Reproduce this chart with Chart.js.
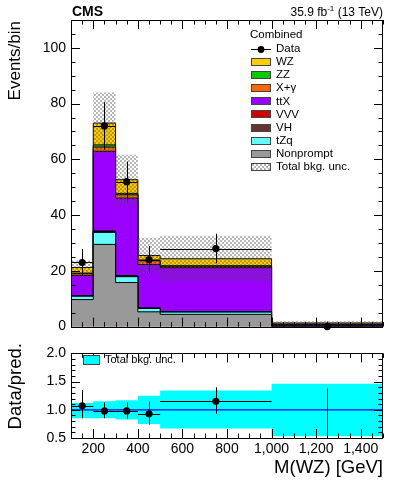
<!DOCTYPE html>
<html><head><meta charset="utf-8">
<script src="https://cdn.jsdelivr.net/npm/chart.js@4/dist/chart.umd.min.js"></script>
<style>
html,body{margin:0;padding:0;background:#fff;}
#wrap{position:relative;width:399px;height:483px;}
canvas{position:absolute;left:0;}
</style></head>
<body><div id="wrap"><canvas id="top" width="399" height="340" style="top:0"></canvas><canvas id="bot" width="399" height="143" style="top:340px"></canvas></div>
<script>
// ---- data ----
const binEdges = [100, 200, 300, 400, 500, 1000, 1500];
const binCenters = [150, 250, 350, 450, 750, 1250];
const seriesNames = ['Nonprompt', 'tZq', 'VH', 'VVV', 'ttX', 'X+\u03b3', 'ZZ', 'WZ'];
const nonprompt = [9.7, 29.5, 15.8, 5.3, 4.4, 0.1];
const tZq       = [1.2, 4.3, 2.1, 1.2, 0.8, 0.05];
const VH        = [0.1, 0.3, 0.2, 0.1, 0.05, 0.0];
const VVV       = [0.1, 0.2, 0.2, 0.1, 0.1, 0.0];
const ttX       = [7.3, 28.6, 27.8, 15.6, 15.8, 0.6];
const Xgamma    = [0.6, 1.5, 1.2, 1.3, 0.5, 0.05];
const ZZ        = [0.2, 0.8, 0.5, 0.3, 0.2, 0.05];
const WZ        = [2.0, 7.8, 4.9, 1.6, 2.5, 0.45];
const dataCounts = [23, 72, 52, 24, 28, 0];
const dataErrUp   = [4.8, 8.5, 7.2, 4.9, 5.3, 1.8];
const dataErrDown = [4.8, 8.5, 7.2, 4.9, 5.3, 0];
const uncRelHi = [1.12, 1.15, 1.17, 1.25, 1.34, 1.46];
const uncRelLo = [0.85, 0.85, 0.83, 0.75, 0.67, 0.53];
const ratioVals   = [1.07, 0.98, 0.98, 0.93, 1.15, 0];
const ratioErrHi  = [1.35, 1.13, 1.13, 1.15, 1.40, 1.38];
const ratioErrLo  = [0.85, 0.85, 0.84, 0.74, 0.93, 0.0];
const topYTicks = [0, 20, 40, 60, 80, 100];
const ratioYTicks = [0.5, 1.0, 1.5, 2.0];
const ratioXTicks = [200, 400, 600, 800, 1000, 1200, 1400];

const seriesValues = [nonprompt, tZq, VH, VVV, ttX, Xgamma, ZZ, WZ];
const seriesColors = ['#999999', '#66ffff', '#663333', '#cc0000', '#9900ff', '#ff6600', '#00cc00', '#ffcc00'];
const FONT = "'Liberation Sans', Arial, Helvetica, sans-serif";

function stepPoints(vals) {
  // point at each bin's left edge with that bin's value; closing point at the last edge
  return binEdges.map((e, i) => ({x: e, y: vals[Math.min(i, vals.length - 1)]}));
}
// cumulative stack
const cumul = [];
let run = [0,0,0,0,0,0];
seriesValues.forEach(v => { run = run.map((r, i) => r + v[i]); cumul.push(run.slice()); });
const total = cumul[cumul.length - 1];
const bandHi = total.map((t, i) => t * uncRelHi[i]);
const bandLo = total.map((t, i) => t * uncRelLo[i]);

// hatch pattern
const pc = document.createElement('canvas'); pc.width = 4; pc.height = 4;
const pctx = pc.getContext('2d');
pctx.fillStyle = 'rgba(80,80,80,0.42)';
pctx.fillRect(0,0,2,2); pctx.fillRect(2,2,2,2);
const hatch = pctx.createPattern(pc, 'repeat');

function frameTicks(chart, xMinor, xMajor, yMinor, yMajor, xr, yr) {
  const {ctx, chartArea: a, scales} = chart;
  ctx.save();
  ctx.strokeStyle = '#000'; ctx.lineWidth = 1;
  ctx.strokeRect(Math.round(a.left) + 0.5, Math.round(a.top) + 0.5, Math.round(a.right - a.left) - 1, Math.round(a.bottom - a.top));
  ctx.beginPath();
  for (let v = xr[0]; v <= xr[1] + 1e-9; v += xMinor) {
    const x = Math.round(scales.x.getPixelForValue(v)) + 0.5;
    const major = Math.abs(v / xMajor - Math.round(v / xMajor)) < 1e-6;
    const L = major ? 9 : 4.5;
    ctx.moveTo(x, a.bottom); ctx.lineTo(x, a.bottom - L);
    ctx.moveTo(x, a.top); ctx.lineTo(x, a.top + L);
  }
  for (let v = yr[0]; v <= yr[1] + 1e-9; v += yMinor) {
    const y = Math.round(scales.y.getPixelForValue(v)) + 0.5;
    const major = Math.abs(v / yMajor - Math.round(v / yMajor)) < 1e-6;
    const L = major ? 9 : 4.5;
    ctx.moveTo(a.left, y); ctx.lineTo(a.left + L, y);
    ctx.moveTo(a.right, y); ctx.lineTo(a.right - L, y);
  }
  ctx.stroke();
  ctx.restore();
}

function drawErrorBars(chart, centers, vals, hi, lo, clip) {
  const {ctx, chartArea: a, scales} = chart;
  ctx.save();
  if (clip) { ctx.beginPath(); ctx.rect(a.left, a.top, a.right - a.left, a.bottom - a.top); ctx.clip(); }
  ctx.strokeStyle = '#000'; ctx.lineWidth = 1;
  ctx.beginPath();
  centers.forEach((c, i) => {
    const x = Math.round(scales.x.getPixelForValue(c)) + 0.5;
    const y = Math.round(scales.y.getPixelForValue(vals[i])) + 0.5;
    ctx.moveTo(x, scales.y.getPixelForValue(hi[i]));
    ctx.lineTo(x, scales.y.getPixelForValue(lo[i]));
    ctx.moveTo(scales.x.getPixelForValue(binEdges[i]), y);
    ctx.lineTo(scales.x.getPixelForValue(binEdges[i + 1]), y);
  });
  ctx.stroke();
  ctx.restore();
}

// ---------- TOP ----------
const topDatasets = [];
topDatasets.push({type: 'scatter', label: 'Data', data: binCenters.map((c, i) => ({x: c, y: dataCounts[i]})),
  pointRadius: 3.6, pointBackgroundColor: '#000', pointBorderColor: '#000', pointBorderWidth: 0, showLine: false, clip: false});
topDatasets.push({label: 'bandHi', data: stepPoints(bandHi), stepped: 'before', borderWidth: 0, pointRadius: 0,
  fill: {target: 2}, backgroundColor: hatch});
topDatasets.push({label: 'bandLo', data: stepPoints(bandLo), stepped: 'before', borderWidth: 0, pointRadius: 0, fill: false});
cumul.forEach((c, i) => {
  topDatasets.push({label: seriesNames[i], data: stepPoints(c), stepped: 'before', borderColor: '#000', borderWidth: 1,
    pointRadius: 0, fill: 'origin', backgroundColor: seriesColors[i]});
});

const topPlugin = {
  id: 'topdeco',
  afterDatasetsDraw(chart) {
    drawErrorBars(chart, binCenters, dataCounts, dataCounts.map((d, i) => d + dataErrUp[i]), dataCounts.map((d, i) => d - dataErrDown[i]), false);
  },
  afterDraw(chart) {
    frameTicks(chart, 50, 200, 5, 20, [100, 1500], [0, 110]);
    const ctx = chart.ctx;
    ctx.save();
    ctx.fillStyle = '#000';
    ctx.textBaseline = 'alphabetic';
    ctx.font = 'bold 14px ' + FONT; ctx.textAlign = 'left';
    ctx.fillText('CMS', 72, 16);
    // lumi text right aligned at 383
    ctx.font = '12px ' + FONT; ctx.textAlign = 'right';
    let xr = 383;
    ctx.fillText(' (13 TeV)', xr, 16); xr -= ctx.measureText(' (13 TeV)').width;
    ctx.font = '8px ' + FONT; ctx.fillText('-1', xr, 11); xr -= ctx.measureText('-1').width;
    ctx.font = '12px ' + FONT; ctx.fillText('35.9 fb', xr, 16);
    // y title
    ctx.save();
    ctx.translate(20, 21); ctx.rotate(-Math.PI / 2);
    ctx.font = '17px ' + FONT; ctx.textAlign = 'right'; ctx.textBaseline = 'alphabetic';
    ctx.fillText('Events/bin', 0, 0);
    ctx.restore();
    // legend
    ctx.font = '11.5px ' + FONT; ctx.textAlign = 'left'; ctx.textBaseline = 'middle';
    ctx.fillText('Combined', 250, 35);
    const lx = 251, lw = 20, tx = 276, dy = 13.1;
    let y = 49;
    ctx.strokeStyle = '#000'; ctx.lineWidth = 1;
    ctx.beginPath(); ctx.moveTo(lx, Math.round(y) + 0.5); ctx.lineTo(lx + lw, Math.round(y) + 0.5); ctx.stroke();
    ctx.beginPath(); ctx.arc(lx + lw / 2, Math.round(y) + 0.5, 3.4, 0, Math.PI * 2); ctx.fill();
    ctx.fillText('Data', tx, y);
    const order = [7, 6, 5, 4, 3, 2, 1, 0];
    order.forEach(k => {
      y += dy;
      const yy = Math.round(y);
      ctx.fillStyle = seriesColors[k];
      ctx.fillRect(lx, yy - 4, lw, 8);
      ctx.strokeStyle = '#444'; ctx.strokeRect(lx + 0.5, yy - 3.5, lw - 1, 7);
      ctx.fillStyle = '#000';
      ctx.fillText(seriesNames[k], tx, y);
    });
    y += dy;
    const yy = Math.round(y);
    ctx.fillStyle = hatch; ctx.fillRect(lx, yy - 4, lw, 8);
    ctx.strokeStyle = '#444'; ctx.strokeRect(lx + 0.5, yy - 3.5, lw - 1, 7);
    ctx.fillStyle = '#000';
    ctx.fillText('Total bkg. unc.', tx, y);
    ctx.restore();
  }
};

new Chart(document.getElementById('top'), {
  type: 'line',
  data: {datasets: topDatasets},
  plugins: [topPlugin],
  options: {
    responsive: false, animation: false, devicePixelRatio: 1,
    layout: {padding: {top: 20, right: 16, left: 0, bottom: 0}},
    plugins: {legend: {display: false}, tooltip: {enabled: false}},
    scales: {
      x: {type: 'linear', min: 100, max: 1500, grid: {display: false}, border: {display: false},
          ticks: {display: false}, afterFit(s) { s.height = 11; }},
      y: {type: 'linear', min: 0, max: 110, grid: {display: false, drawTicks: false}, border: {display: false},
          afterBuildTicks(s) { s.ticks = topYTicks.map(v => ({value: v})); },
          ticks: {font: {size: 14, family: FONT}, color: '#000', padding: 5},
          afterFit(s) { s.width = 71; }}
    }
  }
});

// ---------- BOTTOM ----------
const botDatasets = [
  {type: 'scatter', label: 'ratio', data: binCenters.map((c, i) => ({x: c, y: ratioVals[i]})),
   pointRadius: 3.6, pointBackgroundColor: '#000', pointBorderWidth: 0, showLine: false},
  {label: 'unity', data: [{x: 100, y: 1}, {x: 1500, y: 1}], borderColor: '#0000ff', borderWidth: 1.3, pointRadius: 0, fill: false},
  {label: 'uncHi', data: stepPoints(uncRelHi), stepped: 'before', borderWidth: 0, pointRadius: 0, fill: {target: 3}, backgroundColor: '#00ffff'},
  {label: 'uncLo', data: stepPoints(uncRelLo), stepped: 'before', borderWidth: 0, pointRadius: 0, fill: false}
];
const botPlugin = {
  id: 'botdeco',
  afterDatasetsDraw(chart) {
    drawErrorBars(chart, binCenters, ratioVals, ratioErrHi, ratioErrLo, true);
  },
  afterDraw(chart) {
    frameTicks(chart, 50, 200, 0.1, 0.5, [100, 1500], [0.5, 2.0]);
    const ctx = chart.ctx;
    ctx.save();
    ctx.fillStyle = '#00ffff'; ctx.fillRect(83, 15, 17, 10);
    ctx.strokeStyle = '#444'; ctx.lineWidth = 1; ctx.strokeRect(83.5, 15.5, 16, 9);
    ctx.fillStyle = '#000'; ctx.font = '11px ' + FONT; ctx.textAlign = 'left'; ctx.textBaseline = 'middle';
    ctx.fillText('Total bkg. unc.', 105, 20);
    ctx.font = '18.5px ' + FONT; ctx.textAlign = 'right'; ctx.textBaseline = 'alphabetic';
    ctx.fillText('M(WZ) [GeV]', 383, 133);
    ctx.save();
    ctx.translate(21, 3); ctx.rotate(-Math.PI / 2);
    ctx.textAlign = 'right';
    ctx.fillText('Data/pred.', 0, 0);
    ctx.restore();
    ctx.restore();
  }
};
new Chart(document.getElementById('bot'), {
  type: 'line',
  data: {datasets: botDatasets},
  plugins: [botPlugin],
  options: {
    responsive: false, animation: false, devicePixelRatio: 1,
    layout: {padding: {top: 7, right: 16, left: 0, bottom: 0}},
    plugins: {legend: {display: false}, tooltip: {enabled: false}},
    scales: {
      x: {type: 'linear', min: 100, max: 1500, grid: {display: false, drawTicks: false}, border: {display: false},
          afterBuildTicks(s) { s.ticks = ratioXTicks.map(v => ({value: v})); },
          ticks: {font: {size: 14, family: FONT}, color: '#000', padding: 3, maxRotation: 0, autoSkip: false},
          afterFit(s) { s.height = 45; }},
      y: {type: 'linear', min: 0.5, max: 2.0, grid: {display: false, drawTicks: false}, border: {display: false},
          afterBuildTicks(s) { s.ticks = ratioYTicks.map(v => ({value: v})); },
          ticks: {font: {size: 14, family: FONT}, color: '#000', padding: 5, callback: v => Number(v).toFixed(1)},
          afterFit(s) { s.width = 71; }}
    }
  }
});
</script></body></html>
